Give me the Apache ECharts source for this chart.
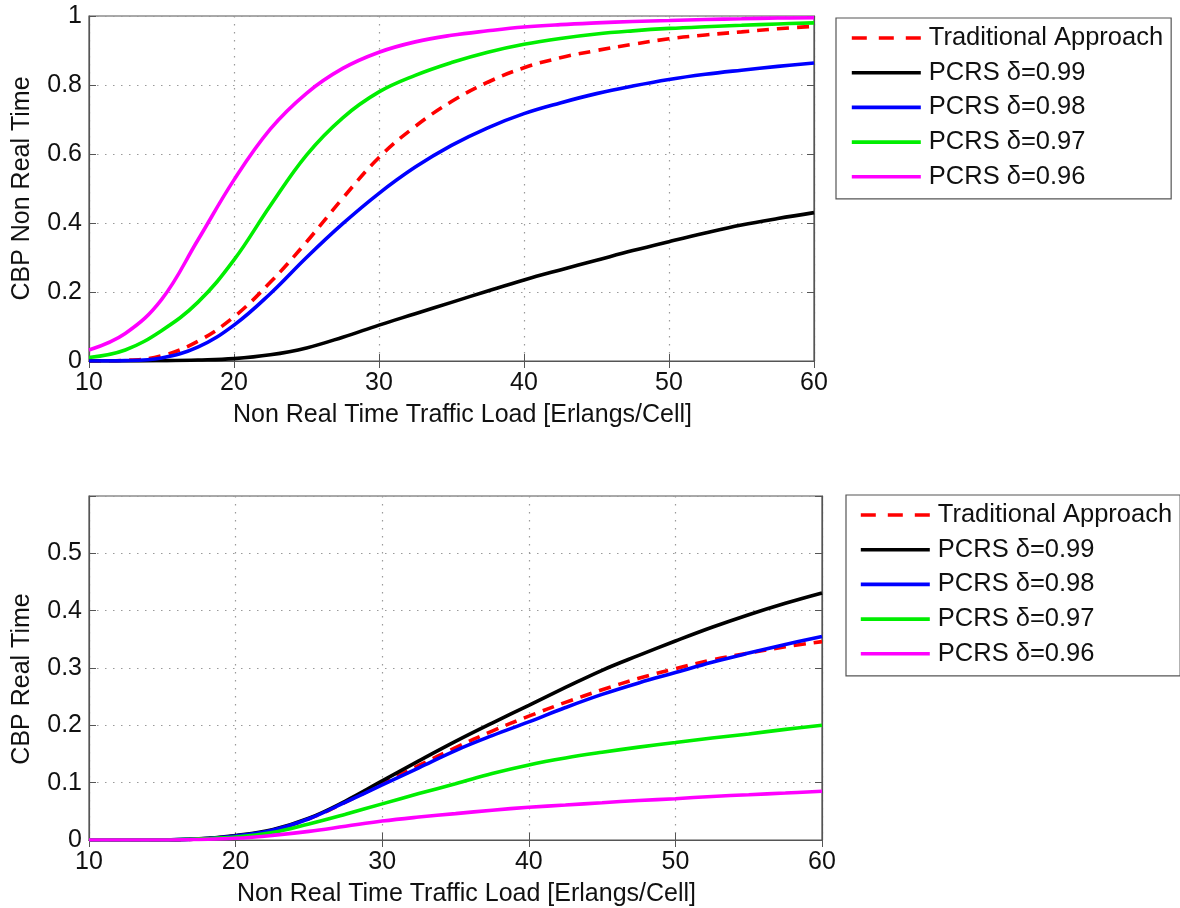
<!DOCTYPE html>
<html>
<head>
<meta charset="utf-8">
<title>CBP vs Non Real Time Traffic Load</title>
<script src="https://cdn.jsdelivr.net/npm/echarts@6/dist/echarts.min.js"></script>
<style>
  html, body { margin: 0; padding: 0; background: #ffffff; }
  #chart { width: 1180px; height: 908px; }
</style>
</head>
<body>
<div id="chart"></div>
<script>
// Offered non real time traffic load [Erlangs/Cell]
const loads = [10, 12.5, 15, 17.5, 20, 22.5, 25, 27.5, 30, 32.5, 35, 37.5, 40, 42.5, 45, 47.5, 50, 52.5, 55, 57.5, 60];

// Series names (legend order)
const seriesNames = ['Traditional Approach', 'PCRS δ=0.99', 'PCRS δ=0.98', 'PCRS δ=0.97', 'PCRS δ=0.96'];

// Call blocking probability, non real time calls
const nrtTraditional = [0, 0.002, 0.015, 0.057, 0.128, 0.228, 0.345, 0.472, 0.59, 0.68, 0.752, 0.808, 0.85, 0.879, 0.90, 0.918, 0.934, 0.945, 0.954, 0.963, 0.97];
const nrtPcrs099 = [0, 0, 0.001, 0.003, 0.007, 0.018, 0.038, 0.069, 0.104, 0.137, 0.17, 0.203, 0.235, 0.264, 0.292, 0.32, 0.346, 0.371, 0.394, 0.413, 0.43];
const nrtPcrs098 = [0, 0.001, 0.009, 0.04, 0.104, 0.195, 0.3, 0.398, 0.486, 0.562, 0.625, 0.676, 0.717, 0.748, 0.775, 0.797, 0.816, 0.831, 0.843, 0.854, 0.864];
const nrtPcrs097 = [0.01, 0.032, 0.088, 0.17, 0.293, 0.45, 0.597, 0.705, 0.78, 0.828, 0.865, 0.895, 0.918, 0.935, 0.948, 0.957, 0.964, 0.969, 0.973, 0.977, 0.98];
const nrtPcrs096 = [0.032, 0.08, 0.178, 0.35, 0.525, 0.672, 0.776, 0.848, 0.895, 0.925, 0.944, 0.957, 0.968, 0.975, 0.98, 0.984, 0.987, 0.99, 0.992, 0.994, 0.995];

// Call blocking probability, real time calls
const rtTraditional = [0, 0, 0, 0.002, 0.007, 0.017, 0.037, 0.066, 0.098, 0.13, 0.161, 0.19, 0.216, 0.24, 0.262, 0.282, 0.299, 0.314, 0.326, 0.337, 0.346];
const rtPcrs099 = [0, 0, 0, 0.002, 0.008, 0.018, 0.038, 0.068, 0.103, 0.138, 0.172, 0.204, 0.235, 0.266, 0.296, 0.322, 0.347, 0.371, 0.393, 0.413, 0.431];
const rtPcrs098 = [0, 0, 0, 0.002, 0.007, 0.017, 0.037, 0.066, 0.096, 0.126, 0.156, 0.182, 0.206, 0.231, 0.254, 0.274, 0.292, 0.31, 0.326, 0.341, 0.355];
const rtPcrs097 = [0, 0, 0, 0.002, 0.005, 0.013, 0.028, 0.045, 0.063, 0.081, 0.098, 0.116, 0.131, 0.143, 0.153, 0.162, 0.17, 0.178, 0.185, 0.193, 0.2];
const rtPcrs096 = [0, 0, 0, 0.001, 0.003, 0.008, 0.015, 0.024, 0.033, 0.04, 0.046, 0.052, 0.057, 0.061, 0.065, 0.069, 0.072, 0.076, 0.079, 0.082, 0.085];

// Axis tick settings
const xTicks = { min: 10, max: 60, interval: 10 };
const yTicksTop = { min: 0, max: 1, interval: 0.2 };
const yTicksBottom = { min: 0, max: 0.6, interval: 0.1 };

const FONT = 'Liberation Sans, Arial, Helvetica, sans-serif';
const AXIS_COLOR = '#555555';
const LINE_WIDTH = 3.6;
const seriesColors = ['#ff0000', '#000000', '#0000ff', '#00ee00', '#ff00ff'];
const seriesDash = [[12, 8], 'solid', 'solid', 'solid', 'solid'];

const pair = (ys) => loads.map((x, i) => [x, ys[i]]);

function mainX(gridIndex) {
  return {
    type: 'value', gridIndex, position: 'bottom',
    min: xTicks.min, max: xTicks.max, interval: xTicks.interval,
    name: 'Non Real Time Traffic Load [Erlangs/Cell]',
    nameLocation: 'middle', nameGap: 42,
    nameTextStyle: { fontFamily: FONT, fontSize: 25, color: '#111', padding: [0, 0, 0, 22] },
    axisLine: { show: true, lineStyle: { color: AXIS_COLOR, width: 1.2 } },
    axisTick: { show: true, inside: true, length: 7, lineStyle: { color: AXIS_COLOR } },
    axisLabel: { fontFamily: FONT, fontSize: 25, color: '#111', margin: 10 },
    splitLine: { show: true, lineStyle: { color: '#9a9a9a', type: [1.5, 6.5], width: 1.2 } }
  };
}
function mirrorX(gridIndex) {
  return {
    type: 'value', gridIndex, position: 'top',
    min: xTicks.min, max: xTicks.max, interval: xTicks.interval,
    axisLine: { show: true, lineStyle: { color: AXIS_COLOR, width: 1.2 } },
    axisTick: { show: true, inside: true, length: 7, lineStyle: { color: AXIS_COLOR } },
    axisLabel: { show: false }, splitLine: { show: false }
  };
}
function mainY(gridIndex, ticks, name, hideTop, namePad) {
  return {
    type: 'value', gridIndex, position: 'left',
    min: ticks.min, max: ticks.max, interval: ticks.interval,
    name, nameLocation: 'middle', nameGap: 54,
    nameTextStyle: { fontFamily: FONT, fontSize: 25, color: '#111', padding: namePad },
    axisLine: { show: true, lineStyle: { color: AXIS_COLOR, width: 1.2 } },
    axisTick: { show: true, inside: true, length: 7, lineStyle: { color: AXIS_COLOR } },
    axisLabel: {
      fontFamily: FONT, fontSize: 25, color: '#111', margin: 7,
      formatter: (v) => (hideTop && Math.abs(v - ticks.max) < 1e-9) ? '' : String(+v.toFixed(2))
    },
    splitLine: { show: true, lineStyle: { color: '#9a9a9a', type: [1.5, 6.5], width: 1.2 } }
  };
}
function mirrorY(gridIndex, ticks) {
  return {
    type: 'value', gridIndex, position: 'right',
    min: ticks.min, max: ticks.max, interval: ticks.interval,
    axisLine: { show: true, lineStyle: { color: AXIS_COLOR, width: 1.2 } },
    axisTick: { show: true, inside: true, length: 7, lineStyle: { color: AXIS_COLOR } },
    axisLabel: { show: false }, splitLine: { show: false }
  };
}

function lineSeries(name, idx, ys, xAxisIndex, yAxisIndex) {
  return {
    type: 'line', name, xAxisIndex, yAxisIndex,
    data: pair(ys), smooth: 0.4,
    symbol: 'none', showSymbol: false, clip: true, z: 2 + idx,
    lineStyle: { color: seriesColors[idx], width: LINE_WIDTH, type: seriesDash[idx] },
    itemStyle: { color: seriesColors[idx] }
  };
}

function legendAt(left, top, padding) {
  return {
    orient: 'vertical', left, top,
    data: seriesNames.map((name, i) => ({
      name,
      lineStyle: { width: LINE_WIDTH, color: seriesColors[i], type: i === 0 ? [15, 12] : 'solid' },
      itemStyle: { opacity: 0, borderWidth: 0 }
    })),
    itemWidth: 69, itemHeight: 14, itemGap: 4.7, padding,
    borderColor: AXIS_COLOR, borderWidth: 1.2, backgroundColor: '#fff',
    selectedMode: false,
    itemStyle: { opacity: 0, borderWidth: 0 },
    textStyle: { fontFamily: FONT, fontSize: 25.5, color: '#111', lineHeight: 30, padding: [0, 0, 0, 3] }
  };
}

const nrtSets = [nrtTraditional, nrtPcrs099, nrtPcrs098, nrtPcrs097, nrtPcrs096];
const rtSets = [rtTraditional, rtPcrs099, rtPcrs098, rtPcrs097, rtPcrs096];

const option = {
  backgroundColor: '#ffffff',
  animation: false,
  grid: [
    { left: 89, top: 16, width: 725, height: 345, show: true, borderColor: AXIS_COLOR, borderWidth: 1.2, backgroundColor: '#fff' },
    { left: 89, top: 496, width: 733, height: 345, show: true, borderColor: AXIS_COLOR, borderWidth: 1.2, backgroundColor: '#fff' }
  ],
  xAxis: [mainX(0), mirrorX(0), mainX(1), mirrorX(1)],
  yAxis: [
    mainY(0, yTicksTop, 'CBP Non Real Time', false, [0, 0, 0, 0]), mirrorY(0, yTicksTop),
    mainY(1, yTicksBottom, 'CBP Real Time', true, [0, 22, 0, 0]), mirrorY(1, yTicksBottom)
  ],
  legend: [
    legendAt(836, 18, [5, 8, 7, 14]),
    legendAt(846, 495, [5, 8, 7, 13])
  ],
  series: [
    ...nrtSets.map((ys, i) => lineSeries(seriesNames[i], i, ys, 0, 0)),
    ...rtSets.map((ys, i) => lineSeries(seriesNames[i], i, ys, 2, 2))
  ]
};

const chart = echarts.init(document.getElementById('chart'), null, { renderer: 'canvas' });
chart.setOption(option);
</script>
</body>
</html>
